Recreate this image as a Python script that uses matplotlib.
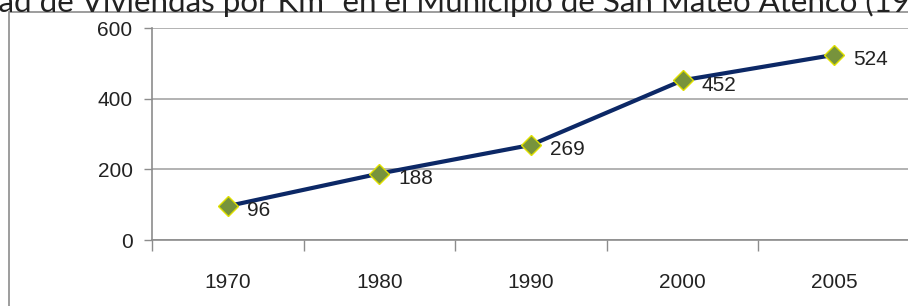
import matplotlib.pyplot as plt
from matplotlib import font_manager
from matplotlib.patches import Rectangle

# Data
years = ['1970', '1980', '1990', '2000', '2005']
density = [96, 188, 269, 452, 524]
y_ticks = [0, 200, 400, 600]

title = "Densidad de Viviendas por Km² en el Municipio de San Mateo Atenco (1970-2005)"

# narrow font for the numbers, if there is one
names = {f.name for f in font_manager.fontManager.ttflist}
num_font = 'Liberation Sans'
for cand in ['Liberation Sans Narrow', 'DejaVu Sans Condensed']:
    if cand in names:
        num_font = cand
        break
num_family = [num_font, 'DejaVu Sans']

W, H = 908, 306
fig = plt.figure(figsize=(W / 100, H / 100), dpi=100)

# chart border (runs off the right and bottom edges)
fig.patches.append(Rectangle((9 / W, -0.1), 1.2, 1 - 12 / H + 0.1, transform=fig.transFigure,
                             fill=False, edgecolor='#8c8c8c', linewidth=1.2))

ax = fig.add_axes([152 / W, (H - 240) / H, (910 - 152) / W, 212 / H])
x = list(range(len(years)))
ax.plot(x, density, color='#0c2866', linewidth=3, marker='D', markersize=10.5,
        markerfacecolor='#77933c', markeredgecolor='#e0e000', markeredgewidth=1, zorder=3)
for xi, v in zip(x, density):
    ax.annotate(str(v), (xi, v), xytext=(13.5, -3.5), textcoords='offset points',
                ha='left', va='center', fontsize=15, family=num_family, color='#222222')

ax.set_xlim(-0.5, len(years) - 0.5)
ax.set_ylim(0, 600)
ax.set_yticks(y_ticks)
ax.set_xticks(x)
ax.set_xticklabels(years)
ax.set_xticks([i - 0.5 for i in range(len(years) + 1)], minor=True)
ax.tick_params(axis='x', which='major', length=0, pad=24)
ax.tick_params(axis='x', which='minor', length=8, color='#8c8c8c', width=1)
ax.tick_params(axis='y', length=6, color='#8c8c8c', width=1, pad=8)
for lab in ax.get_xticklabels() + ax.get_yticklabels():
    lab.set_family(num_family)
    lab.set_fontsize(15)
    lab.set_color('#222222')
ax.grid(axis='y', color='#a6a6a6', linewidth=1.2)
ax.set_axisbelow(True)
for s in ['top', 'right']:
    ax.spines[s].set_visible(False)
for s in ['left', 'bottom']:
    ax.spines[s].set_color('#8c8c8c')
    ax.spines[s].set_linewidth(1.2)

# title, clipped at the top of the image
t = fig.text(0, 1 - 12 / H, title, ha='left', va='baseline', fontsize=22.5,
             family=['Lato', 'DejaVu Sans'], color='#222222')
r = fig.canvas.get_renderer()
pre = fig.text(0, 0, "Densid", fontsize=22.5, family=['Lato', 'DejaVu Sans'])
off = pre.get_window_extent(renderer=r).width
pre.remove()
t.set_x(-(off + 2) / W)

fig.savefig('out.png', dpi=100)
